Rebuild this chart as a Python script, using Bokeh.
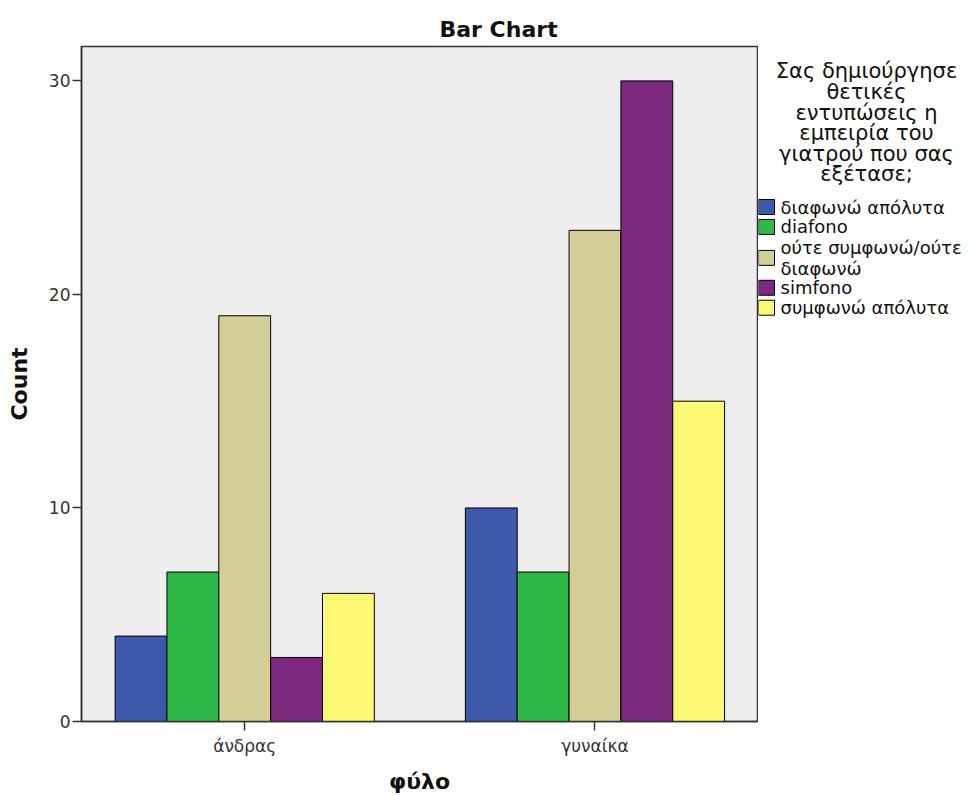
from bokeh.plotting import figure
from bokeh.models import ColumnDataSource, Range1d, FixedTicker
from bokeh.transform import dodge
from bokeh.layouts import row
from bokeh.core.properties import value
from bokeh.embed import file_html
from bokeh.resources import INLINE

# ---- data ----
categories = ["άνδρας", "γυναίκα"]
series_names = ["διαφωνώ απόλυτα", "diafono", "ούτε συμφωνώ/ούτε\nδιαφωνώ", "simfono", "συμφωνώ απόλυτα"]
diafono_apolyta = [4, 10]
diafono = [7, 7]
oute = [19, 23]
simfono = [3, 30]
symfono_apolyta = [6, 15]
series_values = [diafono_apolyta, diafono, oute, simfono, symfono_apolyta]
colors = ["#3E58AC", "#2EB848", "#D3CE97", "#7C287D", "#FBF873"]
y_ticks = [0, 10, 20, 30]
legend_title_lines = ["Σας δημιούργησε", "θετικές", "εντυπώσεις η", "εμπειρία του",
                      "γιατρού που σας", "εξέτασε;"]

FONT = "DejaVu Sans"

data = {"x": list(range(len(categories)))}
for i, vals in enumerate(series_values):
    data[f"s{i}"] = vals
src = ColumnDataSource(data)

p = figure(width=758, height=796, output_backend="svg", toolbar_location=None,
           x_range=Range1d(-0.466, 1.464), y_range=Range1d(0, 31.61),
           min_border_left=81, min_border_top=46, min_border_bottom=73, min_border_right=1,
           title="Bar Chart")
p.background_fill_color = "#EEEEEE"
p.border_fill_color = "white"
p.outline_line_color = "#333333"
p.outline_line_width = 1.5
p.grid.visible = False

p.title.text_font = FONT
p.title.text_font_size = "22px"
p.title.text_font_style = "bold"
p.title.align = "left"
p.title.offset = 358
p.title.text_color = "#111111"

bw = 0.148
for i in range(len(series_values)):
    p.vbar(x=dodge("x", (i - 2) * bw), top=f"s{i}", width=bw, bottom=0, source=src,
           fill_color=colors[i], line_color="black", line_width=1)

# axes
p.xaxis.ticker = FixedTicker(ticks=list(range(len(categories))))
p.xaxis.major_label_overrides = {i: c for i, c in enumerate(categories)}
p.yaxis.ticker = FixedTicker(ticks=y_ticks)
p.xaxis.axis_label = "φύλο"
p.yaxis.axis_label = "Count"
for ax in (p.xaxis[0], p.yaxis[0]):
    ax.axis_label_text_font = FONT
    ax.axis_label_text_font_size = "22px"
    ax.axis_label_text_font_style = "bold"
    ax.axis_label_text_color = "#111111"
    ax.major_label_text_font = FONT
    ax.major_label_text_font_size = "17px"
    ax.major_label_text_color = "#333333"
    ax.axis_line_color = "#333333"
    ax.axis_line_width = 1.5
    ax.major_tick_line_color = "#333333"
    ax.major_tick_line_width = 1.5
    ax.major_tick_out = 9
    ax.major_tick_in = 0
    ax.minor_tick_line_color = None
p.xaxis.major_label_standoff = 5
p.xaxis.axis_label_standoff = 10
p.yaxis.major_label_standoff = 2
p.yaxis.axis_label_standoff = 14

# ---- legend panel (its frame aligns with the main frame: rows 46..723 on the page) ----
lg = figure(width=210, height=796, output_backend="svg", toolbar_location=None,
            x_range=Range1d(0, 210), y_range=Range1d(723, 46),
            min_border=0, outline_line_color=None)
lg.axis.visible = False
lg.grid.visible = False
lg.background_fill_color = "white"
lg.border_fill_color = "white"

title_y0, title_dy = 71, 20.6
tsrc = ColumnDataSource({"text": legend_title_lines,
                         "x": [108] * len(legend_title_lines),
                         "y": [title_y0 + k * title_dy for k in range(len(legend_title_lines))]})
lg.text(x="x", y="y", text="text", source=tsrc, text_font=value(FONT),
        text_font_size="21px", text_align="center", text_baseline="middle", text_color="#111111")

item_y = [207, 227, 258, 288, 308]
isrc = ColumnDataSource({"label": series_names, "color": colors, "y": item_y,
                         "xs": [8] * len(colors), "xt": [22] * len(colors)})
lg.rect(x="xs", y="y", width=16, height=15, source=isrc, fill_color="color",
        line_color="black", line_width=1)
lg.text(x="xt", y="y", text="label", source=isrc, text_font=value(FONT),
        text_font_size="18px", text_align="left", text_baseline="middle",
        text_color="#111111", text_line_height=1.0)

layout = row(p, lg)
open("out.html", "w").write(file_html(layout, INLINE))
